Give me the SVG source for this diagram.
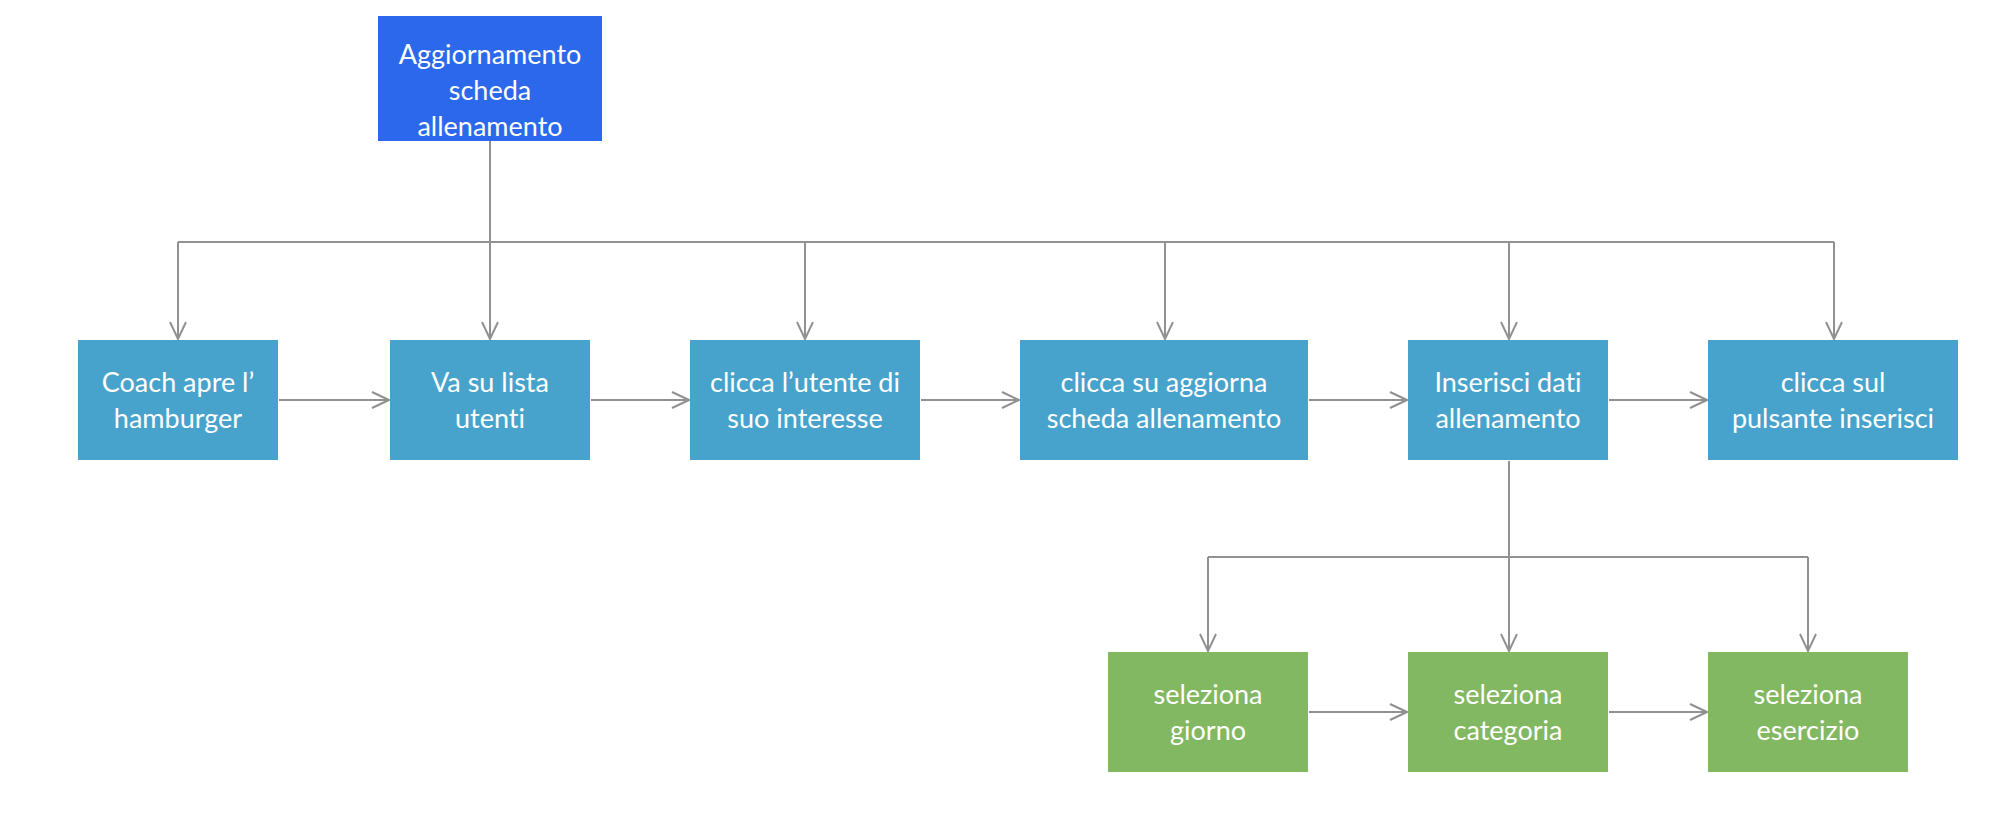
<svg xmlns="http://www.w3.org/2000/svg" width="2000" height="830" viewBox="0 0 2000 830">
<style>
.t{font-family:Lato,"Open Sans","Noto Sans",sans-serif;font-size:27px;fill:#ffffff;text-anchor:middle;font-variant-ligatures:none}
.blue{fill:#2C68EC}
.cyan{fill:#48A3CC}
.green{fill:#83B862}
.ln{fill:none;stroke:#919191;stroke-width:2}
</style>
<defs>
<marker id="ah" viewBox="0 0 20 20" refX="18" refY="10" markerWidth="20" markerHeight="20" markerUnits="userSpaceOnUse" orient="auto">
<path d="M1,2 L18,10 L1,18" fill="none" stroke="#919191" stroke-width="2"/>
</marker>
</defs>
<rect width="2000" height="830" fill="#ffffff"/>
<g id="connectors">
<path class="ln" d="M490,141 V242"/>
<path class="ln" d="M178,242 H1834"/>
<path class="ln" d="M178,242 V339" marker-end="url(#ah)"/>
<path class="ln" d="M490,242 V339" marker-end="url(#ah)"/>
<path class="ln" d="M805,242 V339" marker-end="url(#ah)"/>
<path class="ln" d="M1165,242 V339" marker-end="url(#ah)"/>
<path class="ln" d="M1509,242 V339" marker-end="url(#ah)"/>
<path class="ln" d="M1834,242 V339" marker-end="url(#ah)"/>
<path class="ln" d="M279,400 H389" marker-end="url(#ah)"/>
<path class="ln" d="M591,400 H689" marker-end="url(#ah)"/>
<path class="ln" d="M921,400 H1019" marker-end="url(#ah)"/>
<path class="ln" d="M1309,400 H1407" marker-end="url(#ah)"/>
<path class="ln" d="M1609,400 H1707" marker-end="url(#ah)"/>
<path class="ln" d="M1509,461 V557"/>
<path class="ln" d="M1208,557 H1808"/>
<path class="ln" d="M1208,557 V651" marker-end="url(#ah)"/>
<path class="ln" d="M1509,557 V651" marker-end="url(#ah)"/>
<path class="ln" d="M1808,557 V651" marker-end="url(#ah)"/>
<path class="ln" d="M1309,712 H1407" marker-end="url(#ah)"/>
<path class="ln" d="M1609,712 H1707" marker-end="url(#ah)"/>
</g>
<g id="n0"><rect class="blue" x="378" y="16" width="224" height="125"/><text class="t" x="490" y="64">Aggiornamento</text><text class="t" x="490" y="100">scheda</text><text class="t" x="490" y="136">allenamento</text></g>
<g id="n1"><rect class="cyan" x="78" y="340" width="200" height="120"/><text class="t" x="178" y="392">Coach apre l’</text><text class="t" x="178" y="428">hamburger</text></g>
<g id="n2"><rect class="cyan" x="390" y="340" width="200" height="120"/><text class="t" x="490" y="392">Va su lista</text><text class="t" x="490" y="428">utenti</text></g>
<g id="n3"><rect class="cyan" x="690" y="340" width="230" height="120"/><text class="t" x="805" y="392">clicca l’utente di</text><text class="t" x="805" y="428">suo interesse</text></g>
<g id="n4"><rect class="cyan" x="1020" y="340" width="288" height="120"/><text class="t" x="1164" y="392">clicca su aggiorna</text><text class="t" x="1164" y="428">scheda allenamento</text></g>
<g id="n5"><rect class="cyan" x="1408" y="340" width="200" height="120"/><text class="t" x="1508" y="392">Inserisci dati</text><text class="t" x="1508" y="428">allenamento</text></g>
<g id="n6"><rect class="cyan" x="1708" y="340" width="250" height="120"/><text class="t" x="1833" y="392">clicca sul</text><text class="t" x="1833" y="428">pulsante inserisci</text></g>
<g id="n7"><rect class="green" x="1108" y="652" width="200" height="120"/><text class="t" x="1208" y="704">seleziona</text><text class="t" x="1208" y="740">giorno</text></g>
<g id="n8"><rect class="green" x="1408" y="652" width="200" height="120"/><text class="t" x="1508" y="704">seleziona</text><text class="t" x="1508" y="740">categoria</text></g>
<g id="n9"><rect class="green" x="1708" y="652" width="200" height="120"/><text class="t" x="1808" y="704">seleziona</text><text class="t" x="1808" y="740">esercizio</text></g>
</svg>
